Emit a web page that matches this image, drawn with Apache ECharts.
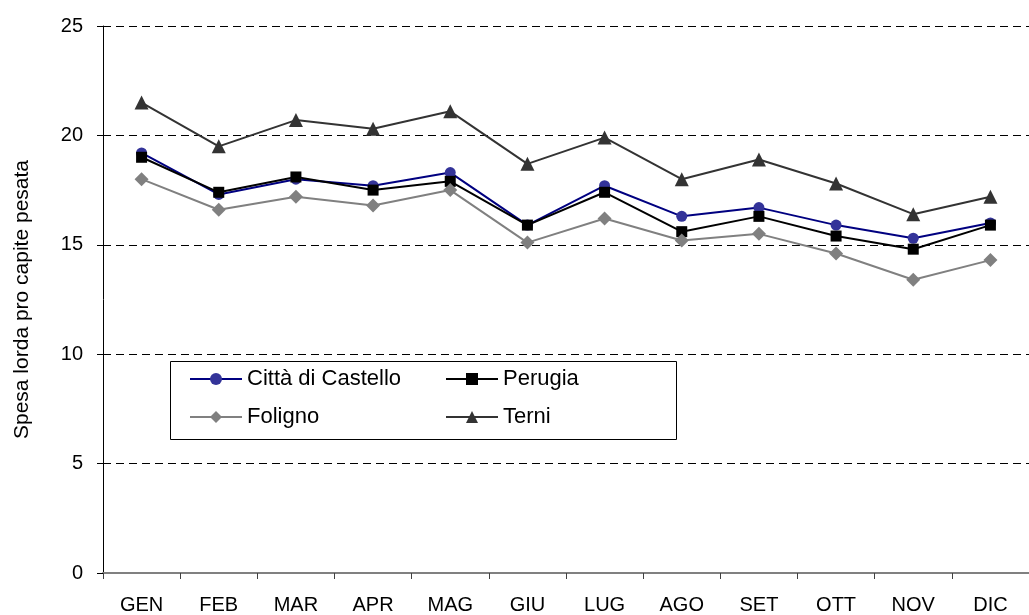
<!DOCTYPE html>
<html>
<head>
<meta charset="utf-8">
<script src="https://cdn.jsdelivr.net/npm/echarts@6/dist/echarts.min.js"></script>
<style>
  html, body { margin: 0; padding: 0; background: #fff; }
  #chart { width: 1029px; height: 615px; }
</style>
</head>
<body>
<div id="chart"></div>
<script>
// mesi
const months = ['GEN', 'FEB', 'MAR', 'APR', 'MAG', 'GIU', 'LUG', 'AGO', 'SET', 'OTT', 'NOV', 'DIC']
// valori
const cittaDiCastello = [19.2, 17.3, 18.0, 17.7, 18.3, 15.9, 17.7, 16.3, 16.7, 15.9, 15.3, 16.0]
const perugia = [19.0, 17.4, 18.1, 17.5, 17.9, 15.9, 17.4, 15.6, 16.3, 15.4, 14.8, 15.9]
const foligno = [18.0, 16.6, 17.2, 16.8, 17.5, 15.1, 16.2, 15.2, 15.5, 14.6, 13.4, 14.3]
const terni = [21.5, 19.5, 20.7, 20.3, 21.1, 18.7, 19.9, 18.0, 18.9, 17.8, 16.4, 17.2]

const font = "'Liberation Sans', Arial, sans-serif"

let mycharts = echarts.init(document.getElementById('chart'))
mycharts.setOption({
  backgroundColor: '#fff',
  animation: false,
  textStyle: { fontFamily: font },
  grid: {
    left: 103,
    right: -10,
    top: 26,
    bottom: 42,
  },
  xAxis: {
    type: 'category',
    data: months,
    boundaryGap: true,
    axisLine: { lineStyle: { color: '#808080', width: 2 } },
    axisTick: { show: true, length: 6, lineStyle: { color: '#404040' } },
    axisLabel: { color: '#000', fontSize: 20, margin: 22, fontFamily: font },
    splitLine: { show: false },
  },
  yAxis: {
    type: 'value',
    min: 0,
    max: 25,
    interval: 5,
    name: 'Spesa lorda pro capite pesata',
    nameLocation: 'middle',
    nameGap: 70,
    nameTextStyle: { color: '#000', fontSize: 21, fontFamily: font },
    axisLine: { show: true, lineStyle: { color: '#000', width: 1 } },
    axisTick: { show: true, length: 6, lineStyle: { color: '#000' } },
    axisLabel: { color: '#000', fontSize: 20, margin: 20, fontFamily: font },
    //linee tratteggiate
    splitLine: { show: true, lineStyle: { color: '#000', type: [8, 5], width: 1 } },
  },
  //riquadro della legenda
  graphic: [
    {
      type: 'rect',
      z: 3,
      shape: { x: 170.5, y: 361.5, width: 506, height: 78 },
      style: { fill: '#fff', stroke: '#000', lineWidth: 1 },
    },
  ],
  legend: [
    {
      data: ['Città di Castello', 'Foligno'],
      orient: 'vertical',
      left: 189,
      top: 368,
      padding: 0,
      itemWidth: 52,
      itemHeight: 15,
      itemGap: 16,
      textStyle: { color: '#000', fontSize: 22, fontFamily: font },
    },
    {
      data: ['Perugia', 'Terni'],
      orient: 'vertical',
      left: 445,
      top: 368,
      padding: 0,
      itemWidth: 52,
      itemHeight: 15,
      itemGap: 16,
      textStyle: { color: '#000', fontSize: 22, fontFamily: font },
    },
  ],
  series: [
    {
      name: 'Città di Castello',
      type: 'line',
      data: cittaDiCastello,
      symbol: 'circle',
      symbolSize: 11,
      lineStyle: { color: '#000080', width: 2 },
      itemStyle: { color: '#333399' },
    },
    {
      name: 'Perugia',
      type: 'line',
      data: perugia,
      symbol: 'rect',
      symbolSize: 11,
      lineStyle: { color: '#000', width: 2 },
      itemStyle: { color: '#000' },
    },
    {
      name: 'Foligno',
      type: 'line',
      data: foligno,
      symbol: 'diamond',
      symbolSize: 14,
      lineStyle: { color: '#808080', width: 2 },
      itemStyle: { color: '#808080' },
    },
    {
      name: 'Terni',
      type: 'line',
      data: terni,
      symbol: 'triangle',
      symbolSize: 14,
      lineStyle: { color: '#333333', width: 2 },
      itemStyle: { color: '#333333' },
    },
  ],
})
</script>
</body>
</html>
